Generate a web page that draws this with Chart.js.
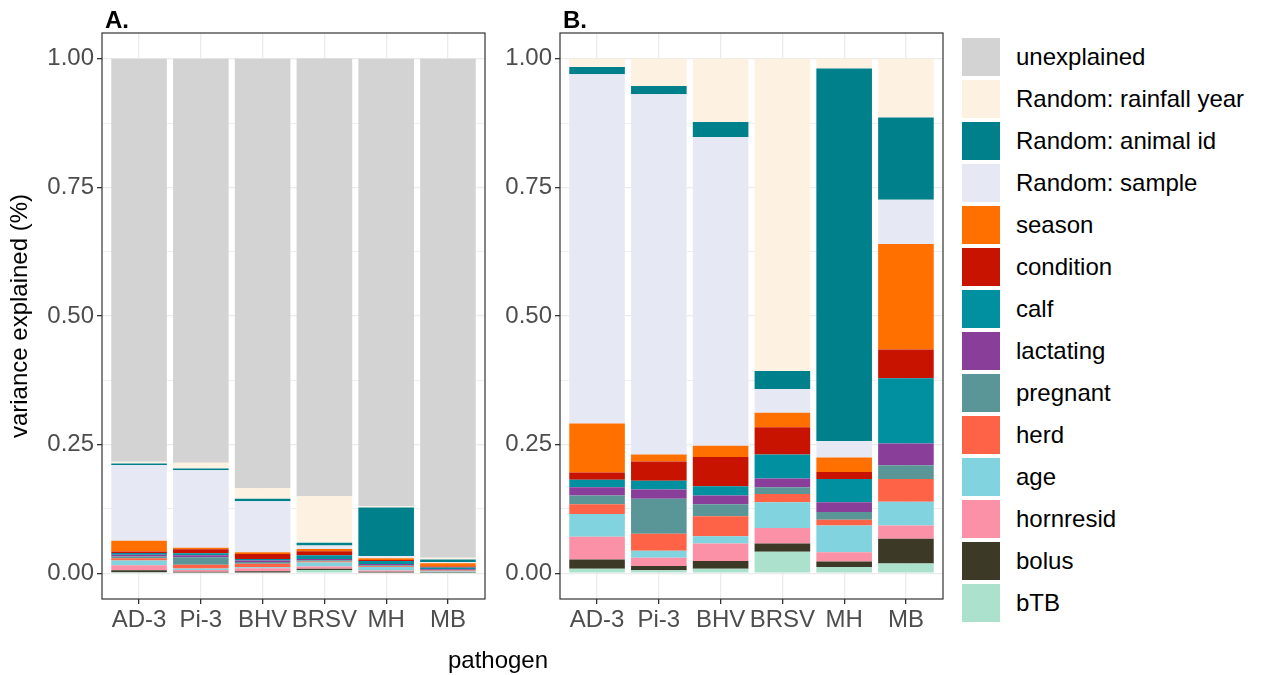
<!DOCTYPE html>
<html>
<head>
<meta charset="utf-8">
<title>variance explained by pathogen</title>
<script src="https://cdn.jsdelivr.net/npm/chart.js@4.4.1/dist/chart.umd.min.js"></script>
<style>
  body { margin: 0; background: #fff; font-family: "Liberation Sans", Arial, sans-serif; }
  #wrap { position: relative; width: 1263px; height: 675px; overflow: hidden; }
  #chartA { position: absolute; left: 0; top: 0; }
  #chartB { position: absolute; left: 490px; top: 0; }
  #legend { position: absolute; left: 962px; top: 38px; }
  .item { display: flex; align-items: center; height: 38px; margin-bottom: 4px; font-size: 24px; color: #000; }
  .swatch { width: 38px; height: 38px; margin-right: 16px; }
  #xtitle { position: absolute; left: 398px; width: 200px; top: 646px; text-align: center; font-size: 24px; color: #000; }
</style>
</head>
<body>
<div id="wrap">
  <canvas id="chartA" width="490" height="675"></canvas>
  <canvas id="chartB" width="460" height="675"></canvas>
  <div id="legend"></div>
  <div id="xtitle">pathogen</div>
</div>
<script>
// pathogens on the x axis
var pathogens = ["AD-3", "Pi-3", "BHV", "BRSV", "MH", "MB"];

// y axis: gridlines every 0.125, labels every 0.25
var yTicks = [0, 0.125, 0.25, 0.375, 0.5, 0.625, 0.75, 0.875, 1];

// legend order (top of the stack first)
var components = ["unexplained", "Random: rainfall year", "Random: animal id", "Random: sample",
  "season", "condition", "calf", "lactating", "pregnant", "herd", "age", "hornresid", "bolus", "bTB"];
var colours = ["#d3d3d3", "#fdf1e1", "#00808a", "#e6e9f4", "#ff7000", "#c71300", "#0090a0",
  "#893f9a", "#5a9698", "#ff6347", "#80d3df", "#fb91a6", "#3c3a27", "#abe1cd"];

// A. share of total variance
var unexplainedA = [0.783, 0.785, 0.835, 0.850, 0.870, 0.970];
var rainfallA    = [0.0035, 0.0114, 0.0203, 0.0911, 0.0025, 0.0034];
var animalIdA    = [0.0030, 0.0034, 0.0048, 0.0053, 0.0941, 0.0048];
var sampleA      = [0.1473, 0.1505, 0.0990, 0.0069, 0.0042, 0.0026];
var seasonA      = [0.0206, 0.0030, 0.0036, 0.0042, 0.0036, 0.0062];
var conditionA   = [0.0030, 0.0080, 0.0094, 0.0080, 0.0018, 0.0017];
var calfA        = [0.0033, 0.0037, 0.0030, 0.0071, 0.0059, 0.0038];
var lactatingA   = [0.0035, 0.0039, 0.0028, 0.0026, 0.0025, 0.0013];
var pregnantA    = [0.0037, 0.0146, 0.0038, 0.0020, 0.0020, 0.0008];
var herdA        = [0.0041, 0.0071, 0.0064, 0.0024, 0.0014, 0.0013];
var ageA         = [0.0095, 0.0030, 0.0023, 0.0075, 0.0068, 0.0014];
var hornresidA   = [0.0095, 0.0034, 0.0056, 0.0045, 0.0023, 0.0008];
var bolusA       = [0.0039, 0.0017, 0.0025, 0.0024, 0.0014, 0.0014];
var btbA         = [0.0020, 0.0013, 0.0015, 0.0063, 0.0016, 0.0006];

// B. share of explained variance
var rainfallB    = [0.016, 0.053, 0.123, 0.607, 0.019, 0.114];
var animalIdB    = [0.014, 0.016, 0.029, 0.035, 0.724, 0.160];
var sampleB      = [0.679, 0.700, 0.600, 0.046, 0.032, 0.086];
var seasonB      = [0.095, 0.014, 0.022, 0.028, 0.028, 0.205];
var conditionB   = [0.014, 0.037, 0.057, 0.053, 0.014, 0.056];
var calfB        = [0.015, 0.017, 0.018, 0.047, 0.045, 0.127];
var lactatingB   = [0.016, 0.018, 0.017, 0.017, 0.019, 0.042];
var pregnantB    = [0.017, 0.068, 0.023, 0.013, 0.015, 0.027];
var herdB        = [0.019, 0.033, 0.039, 0.016, 0.011, 0.044];
var ageB         = [0.044, 0.014, 0.014, 0.050, 0.052, 0.046];
var hornresidB   = [0.044, 0.016, 0.034, 0.030, 0.018, 0.026];
var bolusB       = [0.018, 0.008, 0.015, 0.016, 0.011, 0.048];
var btbB         = [0.009, 0.006, 0.009, 0.042, 0.012, 0.019];

var seriesA = [unexplainedA, rainfallA, animalIdA, sampleA, seasonA, conditionA, calfA,
  lactatingA, pregnantA, herdA, ageA, hornresidA, bolusA, btbA];
var seriesB = [null, rainfallB, animalIdB, sampleB, seasonB, conditionB, calfB,
  lactatingB, pregnantB, herdB, ageB, hornresidB, bolusB, btbB];

var FONT = "'Liberation Sans', Arial, sans-serif";

// stacks are built bottom-up, so walk the legend list backwards
function makeDatasets(series) {
  var sets = [];
  for (var i = components.length - 1; i >= 0; i--) {
    if (!series[i]) continue;
    sets.push({
      label: components[i],
      data: series[i].map(function (v, j) { return { x: j, y: v }; }),
      backgroundColor: colours[i],
      borderWidth: 0,
      barPercentage: 0.9,
      categoryPercentage: 1.0
    });
  }
  return sets;
}

function isMajor(v) {
  return Math.abs(v * 4 - Math.round(v * 4)) < 1e-9;
}

// panel border and the A./B. tag
var panelFrame = {
  id: 'panelFrame',
  afterDatasetsDraw: function (chart, args, opts) {
    var ctx = chart.ctx, a = chart.chartArea;
    ctx.save();
    ctx.strokeStyle = '#333333';
    ctx.lineWidth = 1.2;
    ctx.strokeRect(a.left, a.top, a.right - a.left, a.bottom - a.top);
    ctx.fillStyle = '#000';
    ctx.font = 'bold 24px ' + FONT;
    ctx.textBaseline = 'alphabetic';
    ctx.fillText(opts.tag, a.left + 3, a.top - 5);
    ctx.restore();
  }
};

function makeOptions(tag, axisWidth, showTitle, padRight) {
  return {
    responsive: false,
    animation: false,
    layout: { padding: { top: 33, right: padRight, bottom: 36, left: 0 } },
    plugins: {
      legend: { display: false },
      tooltip: { enabled: false },
      panelFrame: { tag: tag }
    },
    scales: {
      x: {
        type: 'linear',
        min: -0.6,
        max: 5.6,
        offset: false,
        stacked: true,
        afterBuildTicks: function (s) {
          s.ticks = pathogens.map(function (p, i) { return { value: i }; });
        },
        afterFit: function (s) { s.height = 40; },
        ticks: {
          callback: function (v) { return pathogens[v]; },
          color: '#4d4d4d',
          font: { family: FONT, size: 24 },
          padding: 2,
          maxRotation: 0,
          autoSkip: false
        },
        grid: { offset: false, color: '#ebebeb', lineWidth: 1.3, tickLength: 5, tickColor: '#333333' },
        border: { display: false }
      },
      y: {
        stacked: true,
        min: -0.05,
        max: 1.05,
        afterBuildTicks: function (s) {
          s.ticks = yTicks.map(function (v) { return { value: v }; });
        },
        afterFit: function (s) { s.width = axisWidth; },
        ticks: {
          callback: function (v) { return isMajor(v) ? v.toFixed(2) : ''; },
          color: '#4d4d4d',
          font: { family: FONT, size: 24 },
          padding: 3
        },
        grid: {
          color: '#ebebeb',
          lineWidth: function (c) { return c.tick && isMajor(c.tick.value) ? 1.3 : 0.8; },
          tickLength: 5,
          tickColor: function (c) { return c.tick && isMajor(c.tick.value) ? '#333333' : 'rgba(0,0,0,0)'; }
        },
        border: { display: false },
        title: {
          display: showTitle,
          text: 'variance explained (%)',
          color: '#000',
          font: { family: FONT, size: 24 },
          padding: { top: 6, bottom: 0 }
        }
      }
    }
  };
}

new Chart(document.getElementById('chartA'), {
  type: 'bar',
  data: { datasets: makeDatasets(seriesA) },
  options: makeOptions('A.', 102, true, 5),
  plugins: [panelFrame]
});

new Chart(document.getElementById('chartB'), {
  type: 'bar',
  data: { datasets: makeDatasets(seriesB) },
  options: makeOptions('B.', 70, false, 7),
  plugins: [panelFrame]
});

// legend to the right of panel B
var legend = document.getElementById('legend');
components.forEach(function (name, i) {
  var row = document.createElement('div');
  row.className = 'item';
  var sw = document.createElement('div');
  sw.className = 'swatch';
  sw.style.background = colours[i];
  var txt = document.createElement('span');
  txt.textContent = name;
  row.appendChild(sw);
  row.appendChild(txt);
  legend.appendChild(row);
});
</script>
</body>
</html>
